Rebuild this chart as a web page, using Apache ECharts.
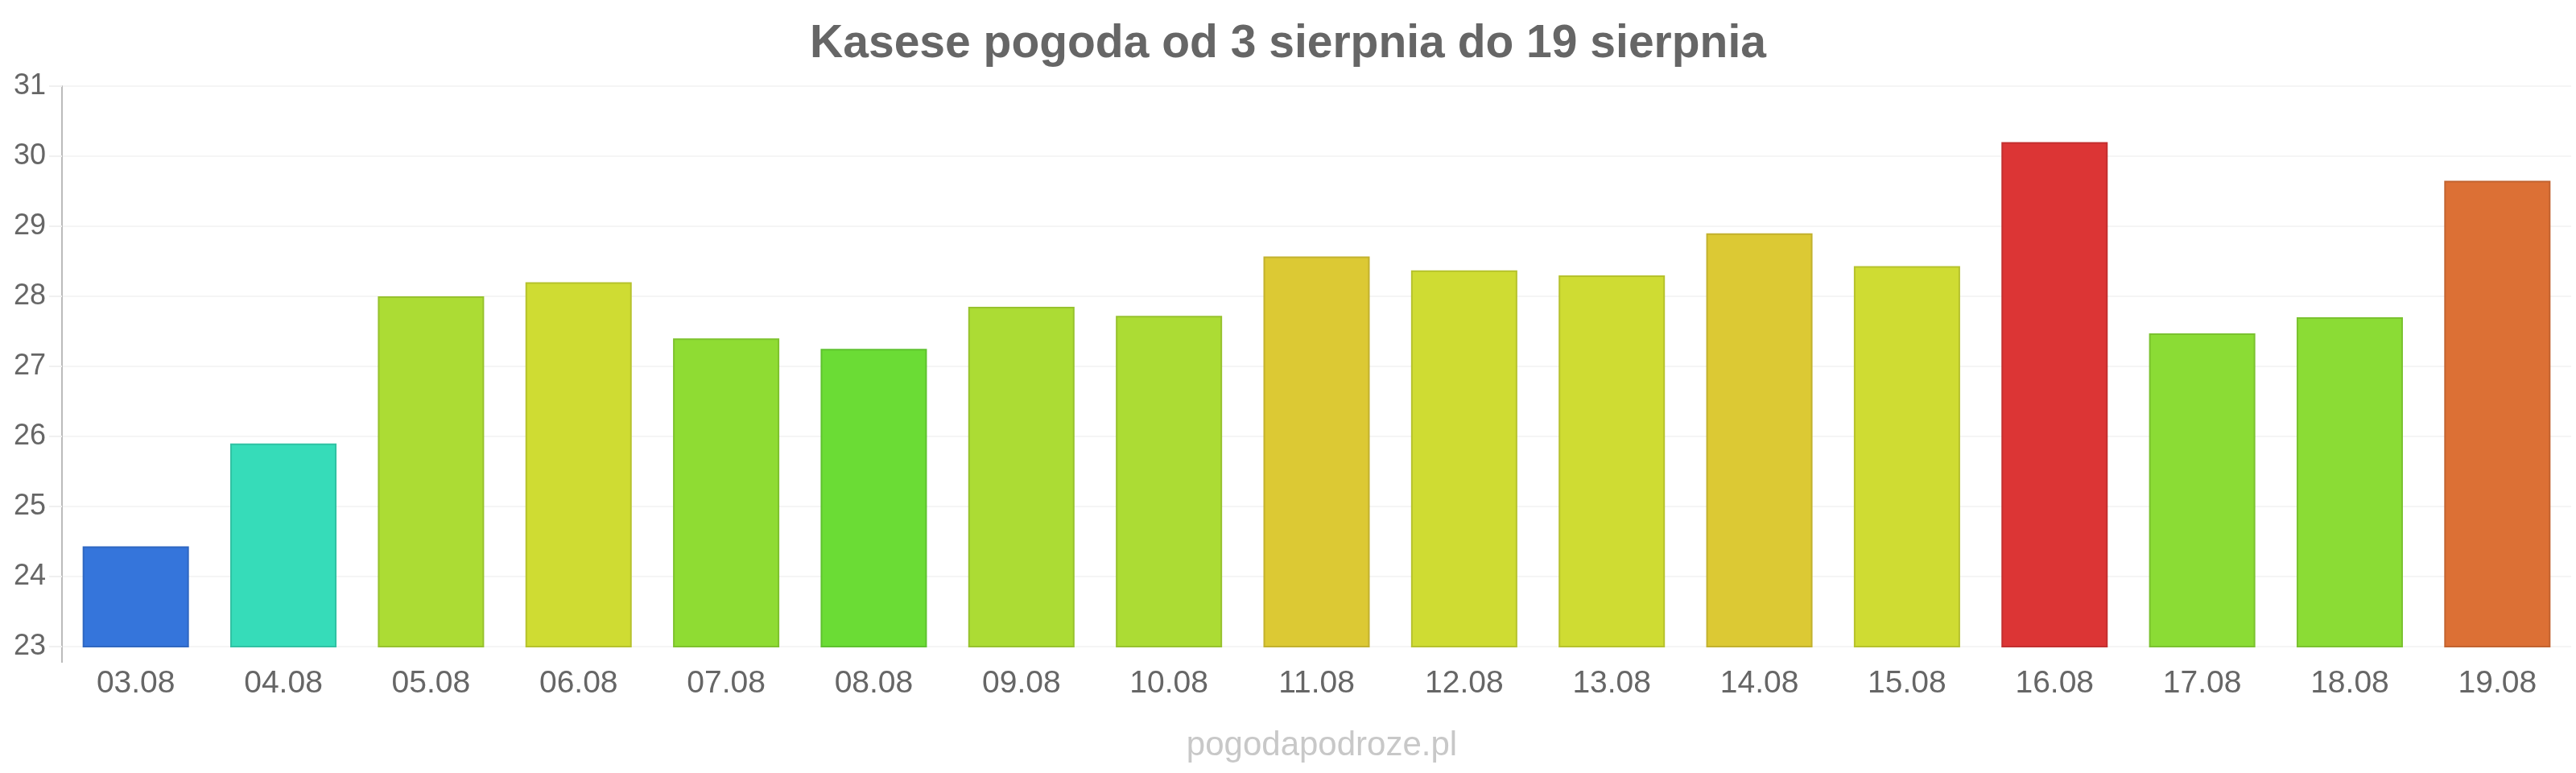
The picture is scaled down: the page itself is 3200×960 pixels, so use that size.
<!DOCTYPE html>
<html>
<head>
<meta charset="utf-8">
<script src="https://cdn.jsdelivr.net/npm/echarts@6/dist/echarts.min.js"></script>
<style>
  html, body {margin: 0; padding: 0; background: #fff;}
  #chart {width: 3200px; height: 960px;}
</style>
</head>
<body>
<div id="chart"></div>
<script>
var days = ['03.08', '04.08', '05.08', '06.08', '07.08', '08.08', '09.08', '10.08', '11.08',
  '12.08', '13.08', '14.08', '15.08', '16.08', '17.08', '18.08', '19.08']
var temps = [24.43, 25.9, 28.0, 28.2, 27.4, 27.25, 27.85, 27.72, 28.57,
  28.37, 28.3, 28.9, 28.43, 30.2, 27.47, 27.7, 29.65]
var barColors = ['#3575db', '#36dcb9', '#acdc34', '#cfdc33', '#8fdc33', '#6bdc35', '#acdc34', '#acdc34', '#dcc934',
  '#cfdc33', '#cfdc33', '#dcc934', '#cfdc33', '#dc3535', '#8bdc35', '#8bdc35', '#dc7035']

function darker(hex) {
  var n = parseInt(hex.slice(1), 16)
  var r = Math.round(((n >> 16) & 255) * 0.88)
  var g = Math.round(((n >> 8) & 255) * 0.88)
  var b = Math.round((n & 255) * 0.88)
  return 'rgb(' + r + ',' + g + ',' + b + ')'
}

var chart = echarts.init(document.getElementById('chart'))
var font = '"Liberation Sans", Arial, sans-serif'

var option = {
  animation: false,
  textStyle: {fontFamily: font},
  title: [
    {text: 'Kasese pogoda od 3 sierpnia do 19 sierpnia', left: 'center', top: 22,
      textStyle: {fontFamily: font, fontSize: 57, fontWeight: 'bold', color: '#666'}},
    {text: 'pogodapodroze.pl', left: 1637, top: 900, textAlign: 'center',
      textStyle: {fontFamily: font, fontSize: 42, fontWeight: 'normal', color: '#c8c8c8'}}
  ],
  grid: {left: 77, right: 6, top: 107, bottom: 157},
  xAxis: {
    type: 'category',
    data: days,
    axisLine: {show: false},
    axisTick: {show: false},
    axisLabel: {fontSize: 39, color: '#666', margin: 27}
  },
  yAxis: {
    type: 'value',
    min: 23,
    max: 31,
    interval: 1,
    axisLine: {show: true, lineStyle: {color: '#bbb', width: 2}},
    axisTick: {show: true, length: 16, lineStyle: {color: '#f0f0f0', width: 2}},
    splitLine: {lineStyle: {color: '#f5f5f5', width: 2}},
    axisLabel: {fontSize: 36, color: '#666', margin: 20}
  },
  graphic: [
    {type: 'line', shape: {x1: 77, y1: 803, x2: 77, y2: 823}, style: {stroke: '#bbb', lineWidth: 2}, silent: true}
  ],
  series: [{
    type: 'bar',
    barCategoryGap: '28%',
    data: temps.map(function (v, i) {
      return {value: v, itemStyle: {color: barColors[i], borderColor: darker(barColors[i]), borderWidth: 2}}
    })
  }]
}
chart.setOption(option)
</script>
</body>
</html>
